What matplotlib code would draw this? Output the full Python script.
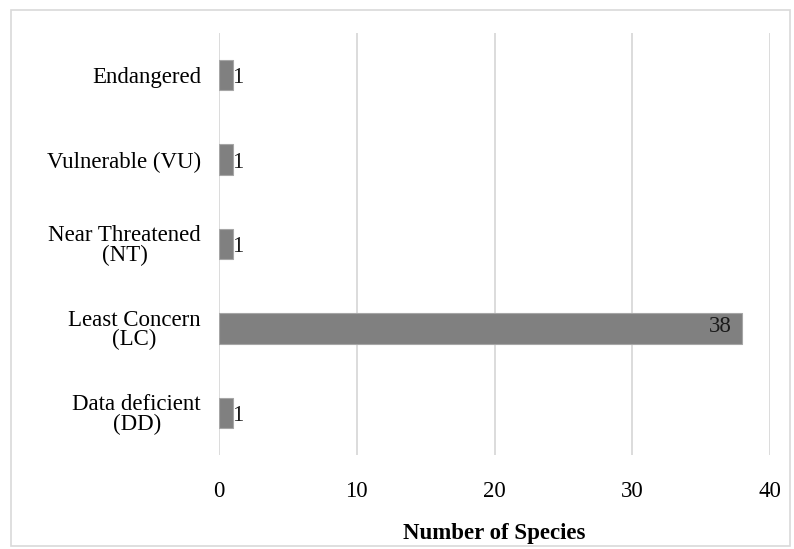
import matplotlib
matplotlib.use("Agg")
import matplotlib.pyplot as plt
from matplotlib.patches import Rectangle

categories = ["Data deficient\n(DD)", "Least Concern\n(LC)", "Near Threatened\n(NT)",
              "Vulnerable (VU)", "Endangered"]
values = [1, 38, 1, 1, 1]
xticks = [0, 10, 20, 30, 40]

plt.rcParams['font.family'] = ['Liberation Serif', 'DejaVu Serif']

W, H = 794, 549
FS = 16.5
fig = plt.figure(figsize=(W / 100, H / 100), dpi=100)
ax = fig.add_axes([219 / W, 1 - 455 / H, (770 - 219) / W, (455 - 33) / H])

ypos = list(range(len(categories)))
bars = ax.barh(ypos, values, height=0.36, color="#808080", edgecolor="#a6a6a6",
               linewidth=0.8, zorder=3)

for y, v in zip(ypos, values):
    if v > 5:
        ax.text(v - 0.8, y + 0.02, str(v), ha="right", va="center", fontsize=FS, color="#1a1a1a", zorder=4)
    else:
        ax.text(v - 0.05, y - 0.03, str(v), ha="left", va="center", fontsize=FS, color="#1a1a1a", zorder=4)

ax.set_xlim(0, 40)
ax.set_ylim(-0.5, len(categories) - 0.5)
ax.set_xticks(xticks)
ax.set_xticklabels([str(t) for t in xticks], fontsize=FS)
ax.set_yticks(ypos)
ax.set_yticklabels(categories, fontsize=FS, multialignment="center", linespacing=0.9)
ax.tick_params(axis="both", length=0)
ax.tick_params(axis="y", pad=13)
ax.tick_params(axis="x", pad=19)
ax.xaxis.grid(True, color="#d9d9d9", linewidth=1.3, zorder=0)
ax.set_axisbelow(True)
for s in ax.spines.values():
    s.set_visible(False)
ax.set_xlabel("Number of Species", fontsize=FS, fontweight="bold", labelpad=15)

fig.patches.append(Rectangle((11 / W, 1 - 546 / H), (790 - 11) / W, (546 - 10) / H,
                             transform=fig.transFigure, fill=False,
                             edgecolor="#d9d9d9", linewidth=1.2))

fig.savefig("out.png", dpi=100)
